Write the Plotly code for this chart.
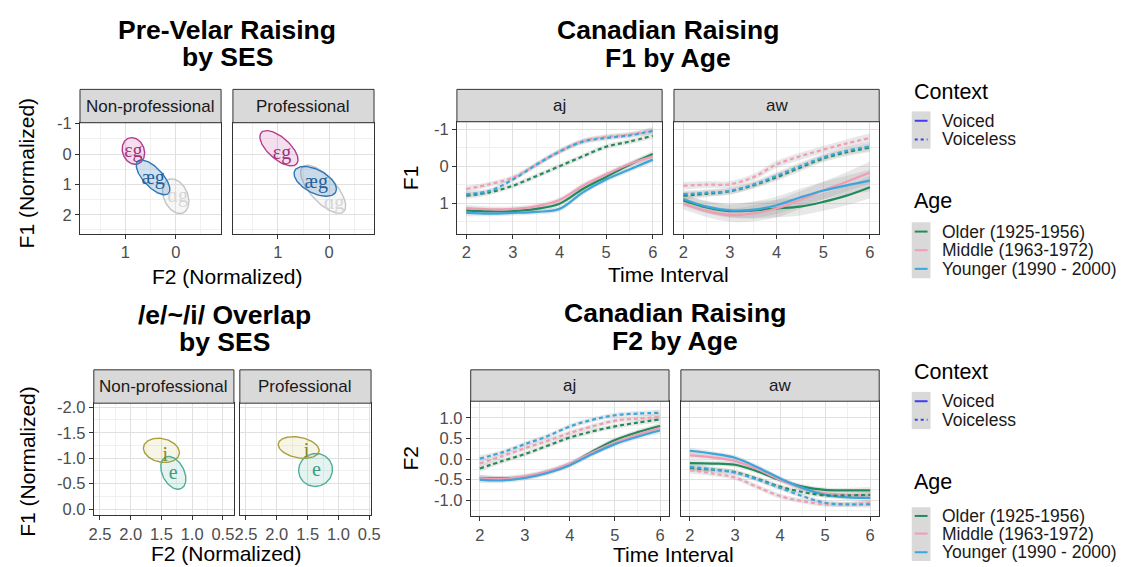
import numpy as np
import plotly.graph_objects as go

W, H = 1127, 567

# ---------------- data ----------------
time_points = [2, 2.5, 3, 3.5, 4, 4.5, 5, 5.5, 6]
age_labels = ["Older (1925-1956)", "Middle (1963-1972)", "Younger (1990 - 2000)"]
context_labels = ["Voiced", "Voiceless"]
ses_facets = ["Non-professional", "Professional"]
diph_facets = ["aj", "aw"]

# Canadian Raising F1, /aj/
f1_aj_voiced_older = [1.20, 1.23, 1.22, 1.16, 1.02, 0.62, 0.29, -0.04, -0.33]
f1_aj_voiced_middle = [1.14, 1.17, 1.16, 1.09, 0.92, 0.53, 0.22, -0.06, -0.27]
f1_aj_voiced_younger = [1.27, 1.29, 1.27, 1.24, 1.16, 0.71, 0.36, 0.09, -0.18]
f1_aj_voiceless_older = [0.80, 0.71, 0.53, 0.27, 0.00, -0.27, -0.53, -0.67, -0.83]
f1_aj_voiceless_middle = [0.62, 0.49, 0.31, -0.04, -0.40, -0.68, -0.80, -0.86, -0.98]
f1_aj_voiceless_younger = [0.76, 0.67, 0.36, -0.04, -0.40, -0.67, -0.77, -0.84, -0.96]
# Canadian Raising F1, /aw/
f1_aw_voiced_older = [0.93, 1.12, 1.22, 1.20, 1.15, 1.10, 0.97, 0.80, 0.57]
f1_aw_voiced_middle = [1.02, 1.22, 1.33, 1.28, 1.15, 0.92, 0.66, 0.42, 0.17]
f1_aw_voiced_younger = [0.89, 1.10, 1.20, 1.18, 1.06, 0.85, 0.66, 0.52, 0.39]
f1_aw_voiceless_older = [0.80, 0.75, 0.68, 0.52, 0.30, 0.04, -0.21, -0.38, -0.51]
f1_aw_voiceless_middle = [0.53, 0.50, 0.49, 0.30, -0.05, -0.27, -0.45, -0.62, -0.77]
f1_aw_voiceless_younger = [0.76, 0.72, 0.67, 0.50, 0.26, 0.00, -0.24, -0.42, -0.54]
# Canadian Raising F2, /aj/
f2_aj_voiced_older = [-0.46, -0.47, -0.44, -0.32, -0.13, 0.18, 0.46, 0.65, 0.80]
f2_aj_voiced_middle = [-0.46, -0.48, -0.42, -0.30, -0.11, 0.16, 0.40, 0.59, 0.75]
f2_aj_voiced_younger = [-0.50, -0.52, -0.46, -0.34, -0.15, 0.12, 0.36, 0.54, 0.69]
f2_aj_voiceless_older = [-0.23, -0.05, 0.12, 0.32, 0.52, 0.67, 0.79, 0.88, 0.96]
f2_aj_voiceless_middle = [-0.11, 0.07, 0.26, 0.44, 0.63, 0.79, 0.93, 0.98, 1.02]
f2_aj_voiceless_younger = [0.01, 0.16, 0.36, 0.55, 0.79, 0.95, 1.06, 1.10, 1.12]
# Canadian Raising F2, /aw/
f2_aw_voiced_older = [-0.10, -0.11, -0.14, -0.30, -0.51, -0.67, -0.75, -0.76, -0.76]
f2_aw_voiced_middle = [0.09, 0.04, -0.05, -0.25, -0.50, -0.72, -0.83, -0.87, -0.88]
f2_aw_voiced_younger = [0.20, 0.13, 0.03, -0.20, -0.47, -0.70, -0.87, -0.93, -0.94]
f2_aw_voiceless_older = [-0.22, -0.26, -0.32, -0.48, -0.67, -0.80, -0.88, -0.88, -0.87]
f2_aw_voiceless_middle = [-0.27, -0.35, -0.45, -0.68, -0.90, -1.02, -1.10, -1.10, -1.06]
f2_aw_voiceless_younger = [-0.19, -0.25, -0.33, -0.50, -0.70, -0.90, -1.06, -1.10, -1.10]
# confidence band half-widths
se_f1_aj = [0.09, 0.07, 0.07, 0.07, 0.07, 0.07, 0.07, 0.07, 0.09]
se_f1_aw_voiced = [0.15, 0.16, 0.18, 0.22, 0.24, 0.24, 0.24, 0.26, 0.30]
se_f1_aw_voiceless = [0.10, 0.09, 0.09, 0.09, 0.10, 0.10, 0.10, 0.11, 0.12]
se_f2 = [0.08, 0.06, 0.06, 0.06, 0.06, 0.06, 0.06, 0.06, 0.08]

# Pre-velar raising ellipses (F2 x, F1 y): centre and two conjugate semi-axis vectors
pv_vowels = ["εg", "æg", "ɑg"]
pv_np_cx = [0.84, 0.45, 0.00]
pv_np_cy = [-0.10, 0.77, 1.39]
pv_np_ux = [-0.098, -0.304, -0.147]
pv_np_uy = [0.42, 0.532, 0.548]
pv_np_vx = [-0.20, -0.137, -0.216]
pv_np_vy = [-0.13, -0.216, -0.161]
pv_np_lx = [0.84, 0.45, -0.04]
pv_np_ly = [-0.06, 0.84, 1.42]
pv_p_cx = [0.98, 0.27, 0.115]
pv_p_cy = [-0.19, 0.90, 1.16]
pv_p_ux = [-0.346, -0.40, -0.40]
pv_p_uy = [0.516, 0.355, 0.74]
pv_p_vx = [-0.14, -0.108, -0.185]
pv_p_vy = [-0.268, -0.339, -0.284]
pv_p_lx = [0.92, 0.25, -0.10]
pv_p_ly = [0.00, 0.97, 1.65]

# /e/~/i/ overlap ellipses
ei_vowels = ["i", "e"]
ei_np_cx = [1.50, 1.306]
ei_np_cy = [-1.154, -0.712]
ei_np_ux = [-0.29, -0.129]
ei_np_uy = [0.077, 0.308]
ei_np_vx = [0.042, -0.158]
ei_np_vy = [0.225, -0.096]
ei_np_lx = [1.435, 1.306]
ei_np_ly = [-1.04, -0.69]
ei_p_cx = [1.645, 1.371]
ei_p_cy = [-1.21, -0.769]
ei_p_ux = [-0.33, -0.27]
ei_p_uy = [0.077, 0.05]
ei_p_vx = [0.032, 0.05]
ei_p_vy = [0.198, 0.32]
ei_p_lx = [1.516, 1.355]
ei_p_ly = [-1.115, -0.75]

# tick labels
pv_x_ticks = [1, 0]
pv_x_text = ["1", "0"]
pv_y_ticks = [-1, 0, 1, 2]
pv_y_text = ["-1", "0", "1", "2"]
ei_x_ticks = [2.5, 2.0, 1.5, 1.0, 0.5]
ei_x_text = ["2.5", "2.0", "1.5", "1.0", "0.5"]
ei_y_ticks = [-2.0, -1.5, -1.0, -0.5, 0.0]
ei_y_text = ["-2.0", "-1.5", "-1.0", "-0.5", "0.0"]
t_ticks = [2, 3, 4, 5, 6]
t_text = ["2", "3", "4", "5", "6"]
f1_ticks = [-1, 0, 1]
f1_text = ["-1", "0", "1"]
f2_ticks = [1.0, 0.5, 0.0, -0.5, -1.0]
f2_text = ["1.0", "0.5", "0.0", "-0.5", "-1.0"]

# ---------------- styling ----------------
FONT = "Liberation Sans, Arial, sans-serif"
SERIF = "Liberation Serif, DejaVu Serif, serif"
AGE_COLORS = ["#238B5B", "#F29CB4", "#3AA6DD"]
PV_LINE = ["#B43C8E", "#2F78B8", "#C4C4C4"]
PV_FILL = ["rgba(200,80,160,0.18)", "rgba(47,120,184,0.22)", "rgba(200,200,200,0.15)"]
PV_TEXT = ["#A1307F", "#235F9C", "#D6D6D6"]
EI_LINE = ["#A89F3A", "#4FAE98"]
EI_FILL = ["rgba(200,190,90,0.15)", "rgba(90,180,160,0.15)"]
EI_TEXT = ["#8B8529", "#3D9B88"]
BAND = "rgba(150,150,150,0.22)"
BORDER = "#333333"
STRIP_BG = "#D9D9D9"


def X(p):
    return p / W


def Y(p):
    return 1 - p / H


panels = [
    dict(px=(76, 219), py=(117, 230), st=83, xr=[1.9, -0.9], yr=[2.62, -1.03],
         xt=pv_x_ticks, xtt=pv_x_text, xm=[1.5, 0.5, -0.5],
         yt=pv_y_ticks, ytt=pv_y_text, ym=[-0.5, 0.5, 1.5, 2.5], showy=True, strip=ses_facets[0]),
    dict(px=(231, 374), py=(117, 230), st=83, xr=[1.88, -0.88], yr=[2.62, -1.03],
         xt=pv_x_ticks, xtt=pv_x_text, xm=[1.5, 0.5, -0.5],
         yt=pv_y_ticks, ytt=pv_y_text, ym=[-0.5, 0.5, 1.5, 2.5], showy=False, strip=ses_facets[1]),
    dict(px=(90, 232), py=(403, 517), st=369, xr=[2.6, 0.32], yr=[0.115, -2.08],
         xt=ei_x_ticks, xtt=ei_x_text, xm=[2.25, 1.75, 1.25, 0.75],
         yt=ei_y_ticks, ytt=ei_y_text, ym=[-1.75, -1.25, -0.75, -0.25], showy=True, strip=ses_facets[0]),
    dict(px=(238, 371), py=(403, 517), st=369, xr=[2.6, 0.47], yr=[0.115, -2.08],
         xt=ei_x_ticks, xtt=ei_x_text, xm=[2.25, 1.75, 1.25, 0.75],
         yt=ei_y_ticks, ytt=ei_y_text, ym=[-1.75, -1.25, -0.75, -0.25], showy=False, strip=ses_facets[1]),
    dict(px=(458, 666), py=(116, 230), st=83, xr=[1.8, 6.2], yr=[1.83, -1.21],
         xt=t_ticks, xtt=t_text, xm=[2.5, 3.5, 4.5, 5.5],
         yt=f1_ticks, ytt=f1_text, ym=[-0.5, 0.5, 1.5], showy=True, strip=diph_facets[0]),
    dict(px=(678, 886), py=(116, 230), st=83, xr=[1.8, 6.2], yr=[1.83, -1.21],
         xt=t_ticks, xtt=t_text, xm=[2.5, 3.5, 4.5, 5.5],
         yt=f1_ticks, ytt=f1_text, ym=[-0.5, 0.5, 1.5], showy=False, strip=diph_facets[1]),
    dict(px=(472, 673), py=(401, 518), st=369, xr=[1.8, 6.2], yr=[-1.38, 1.40],
         xt=t_ticks, xtt=t_text, xm=[2.5, 3.5, 4.5, 5.5],
         yt=f2_ticks, ytt=f2_text, ym=[-1.25, -0.75, -0.25, 0.25, 0.75, 1.25], showy=True, strip=diph_facets[0]),
    dict(px=(685, 886), py=(401, 518), st=369, xr=[1.8, 6.2], yr=[-1.38, 1.40],
         xt=t_ticks, xtt=t_text, xm=[2.5, 3.5, 4.5, 5.5],
         yt=f2_ticks, ytt=f2_text, ym=[-1.25, -0.75, -0.25, 0.25, 0.75, 1.25], showy=False, strip=diph_facets[1]),
]

fig = go.Figure()
layout = dict(width=W, height=H, margin=dict(l=0, r=0, t=0, b=0),
              paper_bgcolor="white", plot_bgcolor="white", showlegend=False)
shapes = []
annotations = []

tickfont = dict(family=FONT, size=16.5, color="#4D4D4D")
for i, p in enumerate(panels, start=1):
    sfx = "" if i == 1 else str(i)
    x0, x1 = p["px"]
    y0, y1 = p["py"]
    layout["xaxis" + sfx] = dict(
        domain=[X(x0), X(x1)], range=p["xr"], anchor="y" + sfx,
        tickmode="array", tickvals=p["xt"], ticktext=p["xtt"],
        showgrid=True, gridcolor="#E0E0E0", gridwidth=1.1,
        minor=dict(tickvals=p["xm"], showgrid=True, gridcolor="#F0F0F0", gridwidth=0.7, ticks=""),
        ticks="outside", ticklen=4, tickwidth=1, tickcolor=BORDER,
        showline=True, mirror=True, linecolor=BORDER, linewidth=1,
        zeroline=False, tickfont=tickfont, fixedrange=True)
    layout["yaxis" + sfx] = dict(
        domain=[Y(y1), Y(y0)], range=p["yr"], anchor="x" + sfx,
        tickmode="array", tickvals=p["yt"], ticktext=p["ytt"],
        showgrid=True, gridcolor="#E0E0E0", gridwidth=1.1,
        minor=dict(tickvals=p["ym"], showgrid=True, gridcolor="#F0F0F0", gridwidth=0.7, ticks=""),
        ticks="outside" if p["showy"] else "", ticklen=4, tickwidth=1, tickcolor=BORDER,
        showticklabels=p["showy"],
        showline=True, mirror=True, linecolor=BORDER, linewidth=1,
        zeroline=False, tickfont=tickfont, fixedrange=True)
    shapes.append(dict(type="rect", xref="paper", yref="paper",
                       x0=X(x0), x1=X(x1), y0=Y(y0), y1=Y(p["st"]),
                       fillcolor=STRIP_BG, line=dict(color=BORDER, width=1)))
    annotations.append(dict(text=p["strip"], xref="paper", yref="paper",
                            x=X((x0 + x1) / 2), y=Y((y0 + p["st"]) / 2),
                            xanchor="center", yanchor="middle", showarrow=False,
                            font=dict(family=FONT, size=17, color="#1A1A1A")))

t = np.linspace(0, 2 * np.pi, 120)


def add_ellipses(ax, labels, cx, cy, ux, uy, vx, vy, lx, ly, lines, fills, tcols, tsize):
    xa = "x" + ax
    ya = "y" + ax
    for k in range(len(labels)):
        ex = cx[k] + ux[k] * np.cos(t) + vx[k] * np.sin(t)
        ey = cy[k] + uy[k] * np.cos(t) + vy[k] * np.sin(t)
        fig.add_trace(go.Scatter(x=ex, y=ey, mode="lines", fill="toself",
                                 fillcolor=fills[k], line=dict(color=lines[k], width=1.4),
                                 xaxis=xa, yaxis=ya, hoverinfo="skip"))
    for k in range(len(labels)):
        fig.add_trace(go.Scatter(x=[lx[k]], y=[ly[k]], mode="text", text=[labels[k]],
                                 textfont=dict(family=SERIF, size=tsize, color=tcols[k]),
                                 xaxis=xa, yaxis=ya, hoverinfo="skip"))


order = [2, 0, 1]


def reorder(lst):
    return [lst[j] for j in order]


add_ellipses("", reorder(pv_vowels), reorder(pv_np_cx), reorder(pv_np_cy), reorder(pv_np_ux),
             reorder(pv_np_uy), reorder(pv_np_vx), reorder(pv_np_vy), reorder(pv_np_lx),
             reorder(pv_np_ly), reorder(PV_LINE), reorder(PV_FILL), reorder(PV_TEXT), 20)
add_ellipses("2", reorder(pv_vowels), reorder(pv_p_cx), reorder(pv_p_cy), reorder(pv_p_ux),
             reorder(pv_p_uy), reorder(pv_p_vx), reorder(pv_p_vy), reorder(pv_p_lx),
             reorder(pv_p_ly), reorder(PV_LINE), reorder(PV_FILL), reorder(PV_TEXT), 20)
add_ellipses("3", ei_vowels, ei_np_cx, ei_np_cy, ei_np_ux, ei_np_uy, ei_np_vx, ei_np_vy,
             ei_np_lx, ei_np_ly, EI_LINE, EI_FILL, EI_TEXT, 20)
add_ellipses("4", ei_vowels, ei_p_cx, ei_p_cy, ei_p_ux, ei_p_uy, ei_p_vx, ei_p_vy,
             ei_p_lx, ei_p_ly, EI_LINE, EI_FILL, EI_TEXT, 20)

smooth_panels = [
    ("5", [f1_aj_voiced_older, f1_aj_voiced_middle, f1_aj_voiced_younger],
     [f1_aj_voiceless_older, f1_aj_voiceless_middle, f1_aj_voiceless_younger], se_f1_aj, se_f1_aj),
    ("6", [f1_aw_voiced_older, f1_aw_voiced_middle, f1_aw_voiced_younger],
     [f1_aw_voiceless_older, f1_aw_voiceless_middle, f1_aw_voiceless_younger], se_f1_aw_voiced, se_f1_aw_voiceless),
    ("7", [f2_aj_voiced_older, f2_aj_voiced_middle, f2_aj_voiced_younger],
     [f2_aj_voiceless_older, f2_aj_voiceless_middle, f2_aj_voiceless_younger], se_f2, se_f2),
    ("8", [f2_aw_voiced_older, f2_aw_voiced_middle, f2_aw_voiced_younger],
     [f2_aw_voiceless_older, f2_aw_voiceless_middle, f2_aw_voiceless_younger], se_f2, se_f2),
]

for ax, voiced, voiceless, se_v, se_vl in smooth_panels:
    xa, ya = "x" + ax, "y" + ax
    for series, se in ((voiced, se_v), (voiceless, se_vl)):
        for vals in series:
            lo = [v - s for v, s in zip(vals, se)]
            hi = [v + s for v, s in zip(vals, se)]
            fig.add_trace(go.Scatter(x=time_points, y=lo, mode="lines",
                                     line=dict(width=0, shape="spline"),
                                     xaxis=xa, yaxis=ya, hoverinfo="skip"))
            fig.add_trace(go.Scatter(x=time_points, y=hi, mode="lines", fill="tonexty",
                                     fillcolor=BAND, line=dict(width=0, shape="spline"),
                                     xaxis=xa, yaxis=ya, hoverinfo="skip"))
    for series, dash in ((voiced, "solid"), (voiceless, "4px,3px")):
        for k, vals in enumerate(series):
            fig.add_trace(go.Scatter(x=time_points, y=vals, mode="lines",
                                     line=dict(color=AGE_COLORS[k], width=2.2, dash=dash, shape="spline"),
                                     xaxis=xa, yaxis=ya, name=age_labels[k], hoverinfo="skip"))


def note(text, x, y, size, angle=0, bold=False, color="black", xanchor="center"):
    annotations.append(dict(text=("<b>%s</b>" % text) if bold else text, xref="paper", yref="paper",
                            x=X(x), y=Y(y), xanchor=xanchor, yanchor="middle", showarrow=False,
                            textangle=angle, font=dict(family=FONT, size=size, color=color)))


note("Pre-Velar Raising", 225, 22, 26.5, bold=True)
note("by SES", 225, 50, 26.5, bold=True)
note("/e/~/i/ Overlap", 222, 313, 26.5, bold=True)
note("by SES", 222, 341, 26.5, bold=True)
note("Canadian Raising", 672, 22, 26.5, bold=True)
note("F1 by Age", 672, 51, 26.5, bold=True)
note("Canadian Raising", 679, 311, 26.5, bold=True)
note("F2 by Age", 679, 340, 26.5, bold=True)

note("F1 (Normalized)", 22, 168, 21, angle=-90)
note("F2 (Normalized)", 225, 274, 21)
note("F1 (Normalized)", 22, 462, 21, angle=-90)
note("F2 (Normalized)", 224, 556, 21)
note("F1", 411, 173, 21, angle=-90)
note("Time Interval", 672, 272, 21)
note("F2", 411, 459, 21, angle=-90)
note("Time Interval", 678, 557, 21)


def legend_block(top_title_y, ctx_rows, age_title_y, age_rows):
    kx0, kx1 = 919, 938
    note("Context", kx0, top_title_y, 21.5, xanchor="left")
    h = ctx_rows[1] - ctx_rows[0]
    shapes.append(dict(type="rect", xref="paper", yref="paper", x0=X(kx0), x1=X(kx1),
                       y0=Y(ctx_rows[-1] + h / 2), y1=Y(ctx_rows[0] - h / 2),
                       fillcolor=STRIP_BG, line=dict(width=0)))
    for r, (yy, lab) in enumerate(zip(ctx_rows, context_labels)):
        shapes.append(dict(type="line", xref="paper", yref="paper", x0=X(kx0 + 3), x1=X(kx1 - 3),
                           y0=Y(yy), y1=Y(yy),
                           line=dict(color="#3F3FF0", width=2, dash="solid" if r == 0 else "3px,3px")))
        note(lab, 948, yy, 17.5, color="#1A1A1A", xanchor="left")
    note("Age", kx0, age_title_y, 21.5, xanchor="left")
    h = age_rows[1] - age_rows[0]
    shapes.append(dict(type="rect", xref="paper", yref="paper", x0=X(kx0), x1=X(kx1),
                       y0=Y(age_rows[-1] + h / 2), y1=Y(age_rows[0] - h / 2),
                       fillcolor=STRIP_BG, line=dict(width=0)))
    for r, (yy, lab) in enumerate(zip(age_rows, age_labels)):
        shapes.append(dict(type="line", xref="paper", yref="paper", x0=X(kx0 + 3), x1=X(kx1 - 3),
                           y0=Y(yy), y1=Y(yy), line=dict(color=AGE_COLORS[r], width=2)))
        note(lab, 948, yy, 17.5, color="#1A1A1A", xanchor="left")


legend_block(86, [115, 134], 197, [228, 247, 266])
legend_block(371, [401, 420], 483, [518, 536, 555])

layout["shapes"] = shapes
layout["annotations"] = annotations
fig.update_layout(**layout)
fig.write_html("out.html", config={"displayModeBar": False},
               post_script="document.body.style.margin='0';document.body.style.padding='0';"
                           "document.body.style.overflow='hidden';")
